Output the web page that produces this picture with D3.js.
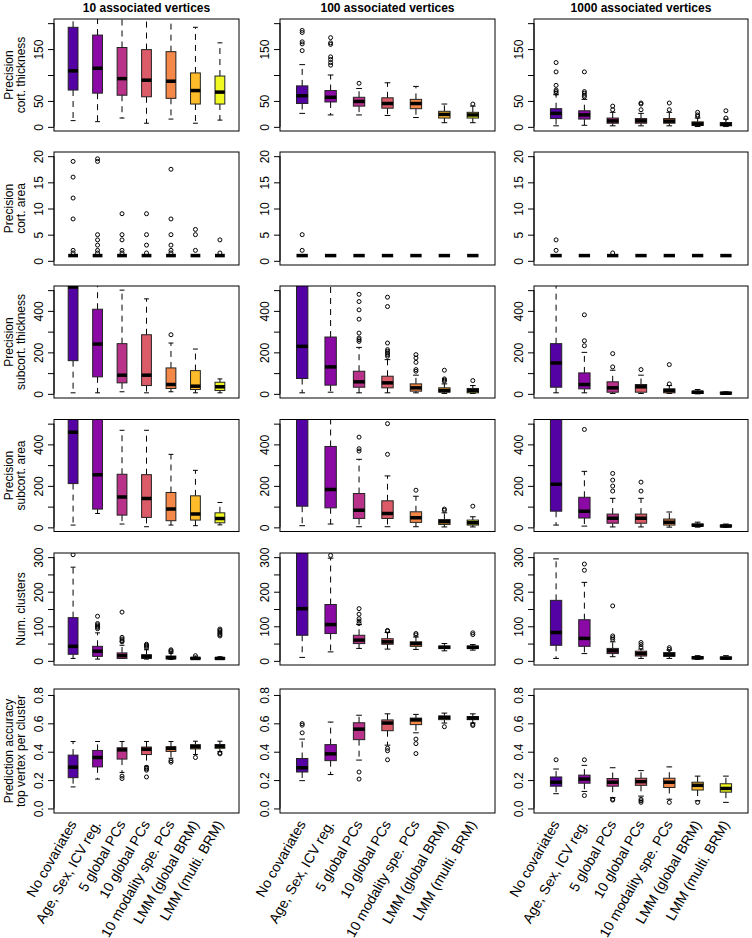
<!DOCTYPE html>
<html><head><meta charset="utf-8">
<script src="https://cdn.jsdelivr.net/npm/d3@7"></script>
<style>body{margin:0;background:#fff} text{font-family:"Liberation Sans",Arial,Helvetica,sans-serif;fill:#000}</style>
</head><body><svg id="c" width="752" height="938"></svg>
<script>
const columnTitles = ["10 associated vertices","100 associated vertices","1000 associated vertices"];
const rowTitles = [["Precision","cort. thickness"],["Precision","cort. area"],["Precision","subcort. thickness"],["Precision","subcort. area"],["Num. clusters"],["Prediction accuracy","top vertex per cluster"]];
const methods = ["No covariates","Age, Sex, ICV reg.","5 global PCs","10 global PCs","10 modality spe. PCs","LMM (global BRM)","LMM (multi. BRM)"];
const boxColors = ["#5402A3","#8B0AA5","#B93289","#DB5C68","#F48849","#FEBC2A","#F0F921"];
const yLimits = [[-8,208],[-0.8,20.8],[-20,520],[-20,520],[-12,312],[-0.032,0.842]];
const tickValues = [[0,50,100,150,200],[0,5,10,15,20],[0,100,200,300,400,500],[0,100,200,300,400,500],[0,50,100,150,200,250,300],[0,0.2,0.4,0.6,0.8]];
const tickLabels = [["0","50","","150",""],["0","5","10","15","20"],["0","","200","","400",""],["0","","200","","400",""],["0","","100","","200","","300"],["0.0","0.2","0.4","0.6","0.8"]];

// box stats: [lower whisker, Q1, median, Q3, upper whisker]
const ct10 = [[12,71,108,192,230],[10,65,113,177,225],[17,61,93,153,215],[7,58,90,149,215],[15,55,88,145,212],[7,44,70,104,192],[13,44,67,98,162]];
const ct10out = [[],[],[],[],[],[],[]];
const ct100 = [[26,45,60,79,120],[23,48,57,70,100],[23,40,49,57,74],[22,36,45,56,85],[18,35,45,53,78],[8,17,24,30,44],[8,17,23,28,40]];
const ct100out = [[147,160,164,182,186],[119,124,130,135,159,162,172],[84],[],[],[],[44]];
const ct1000 = [[2,16,26,35,62],[3,15,23,31,53],[2,7,11.5,17,28],[2,7,11.5,16,26],[2,7,11,16,28],[0.6,2.6,5.8,9.6,17],[0.6,2,5,8.3,15]];
const ct1000out = [[65,68,71,80,106,124],[58,61,65,68,106],[33,40],[33,44,46],[33,46],[20,23,28],[17,31]];

const ca10 = [[1,1,1,1,1],[1,1,1,1,1],[1,1,1,1,1],[1,1,1,1,1],[1,1,1,1,1],[1,1,1,1,1],[1,1,1,1,1]];
const ca10out = [[1.5,2,8,12,16,19],[1.5,2,3,4,5,19,19.5],[1.5,2,4,5,9],[1.5,3,5,9],[1.5,2,3,5,8,17.5],[2,5,6],[1.5,4]];
const ca100 = [[1,1,1,1,1],[1,1,1,1,1],[1,1,1,1,1],[1,1,1,1,1],[1,1,1,1,1],[1,1,1,1,1],[1,1,1,1,1]];
const ca100out = [[2,5],[],[],[],[],[],[]];
const ca1000 = [[1,1,1,1,1],[1,1,1,1,1],[1,1,1,1,1],[1,1,1,1,1],[1,1,1,1,1],[1,1,1,1,1],[1,1,1,1,1]];
const ca1000out = [[2,4],[],[1.5],[],[],[],[]];

const st10 = [[5,160,515,700,900],[5,82,240,408,600],[10,53,90,242,500],[5,40,90,285,458],[10,26,45,125,245],[5,21,37,112,216],[5,16,34,56,72]];
const st10out = [[],[],[],[],[285],[],[]];
const st100 = [[5,74,229,700,1000],[8,42,130,274,600],[5,32,58,109,224],[5,29,53,85,165],[5,13,29,48,90],[2,8,16,29,48],[2,5,16,26,40]];
const st100out = [[],[],[253,261,269,293,360,405,445,480],[181,189,197,205,213,245,421,466],[109,117,152,173,189],[61,66,72,114],[64]];
const st1000 = [[5,32,149,242,560],[5,24,45,101,200],[2,8,29,58,114],[2,8,34,45,90],[2,5,16,24,40],[0,2,8,13,21],[0,0,3,8,10]];
const st1000out = [[],[232,256,381],[130,194],[117],[48,141],[],[]];

const sa10 = [[11,211,459,800,1100],[67,88,254,560,900],[16,59,146,256,468],[3,48,139,254,468],[11,32,88,168,352],[8,35,64,152,275],[12,22,43,70,120]];
const sa10out = [[],[],[],[],[],[],[]];
const sa100 = [[8,102,600,1000,1500],[16,94,182,390,560],[3,43,83,163,328],[3,43,67,128,248],[3,24,46,75,150],[2,14,27,38,70],[2,11,22,35,51]];
const sa100out = [[],[],[368,379,435],[352,500],[179],[82,88],[102]];
const sa1000 = [[11,78,208,700,1000],[6,45,78,145,270],[2,20,44,64,140],[2,20,44,64,140],[1,11,25,40,74],[1,6,10,16,25],[0,2,6,11,16]];
const sa1000out = [[],[472],[175,199,228,260],[175,218],[],[],[]];

const nc10 = [[7,19,42,125,271],[5,13,28,42,81],[7,7,15,23,45],[5,7,12,18,32],[4,6,9,14,22],[4,5,7,10,14],[4,5,7,9,12]];
const nc10out = [[307],[93,97,100,104,108,129],[55,58,63,68,141],[38,42,45,48],[26,29,32],[15],[72,76,80,84,88,92]];
const nc100 = [[10,74,151,500,800],[26,79,105,163,297],[36,50,60,74,105],[34,48,55,64,82],[33,42,50,55,69],[29,36,39,43,50],[31,36,39,43,47]];
const nc100out = [[],[305],[108,115,122,135,151],[86,88],[75,79],[],[76,81]];
const nc1000 = [[7,45,82,175,295],[21,42,65,119,227],[12,21,29,36,55],[7,14,21,28,34],[7,13,18,24,31],[4,6,9,12,15],[4,5,8,11,15]];
const nc1000out = [[],[262,280],[62,67,72,159],[40,47,53],[33,38],[],[]];

const pa10 = [[0.152,0.217,0.291,0.376,0.472],[0.207,0.293,0.359,0.409,0.472],[0.254,0.348,0.413,0.428,0.472],[0.298,0.38,0.417,0.433,0.472],[0.354,0.402,0.424,0.435,0.472],[0.38,0.42,0.435,0.45,0.474],[0.402,0.424,0.439,0.45,0.474]];
const pa10out = [[],[],[0.211,0.228],[0.222,0.27,0.28,0.29],[0.326,0.337],[0.359],[0.385,0.391]];
const pa100 = [[0.196,0.257,0.287,0.352,0.489],[0.239,0.337,0.385,0.45,0.609],[0.341,0.485,0.559,0.604,0.657],[0.446,0.548,0.602,0.624,0.667],[0.533,0.591,0.624,0.637,0.663],[0.602,0.626,0.641,0.652,0.672],[0.602,0.626,0.637,0.648,0.667]];
const pa100out = [[0.533,0.587,0.598],[],[0.207,0.257],[0.343,0.407,0.424],[0.387,0.457,0.489],[0.576],[0.585,0.593]];
const pa1000 = [[0.104,0.157,0.185,0.222,0.278],[0.12,0.178,0.207,0.235,0.304],[0.076,0.157,0.185,0.211,0.287],[0.087,0.163,0.189,0.213,0.267],[0.065,0.148,0.185,0.213,0.293],[0.054,0.13,0.163,0.185,0.228],[0.043,0.115,0.141,0.174,0.228]];
const pa1000out = [[0.343],[0.091,0.343],[0.059,0.065],[0.043,0.054,0.065],[0.043],[0.043],[]];

const statGrid = [[ct10,ct100,ct1000],[ca10,ca100,ca1000],[st10,st100,st1000],[sa10,sa100,sa1000],[nc10,nc100,nc1000],[pa10,pa100,pa1000]];
const outGrid = [[ct10out,ct100out,ct1000out],[ca10out,ca100out,ca1000out],[st10out,st100out,st1000out],[sa10out,sa100out,sa1000out],[nc10out,nc100out,nc1000out],[pa10out,pa100out,pa1000out]];

// layout
const colX = [[54,239],[280,495],[534,748]];
const rowY = [[19,131],[152,265],[286,398],[419.5,531.5],[553,665],[689,813]];
const svg = d3.select("#c");
const defs = svg.append("defs");

statGrid.forEach((rowStats, ri) => {
  rowStats.forEach((stats, ci) => {
    const [x0, x1] = colX[ci];
    const [y0, y1] = rowY[ri];
    const x = d3.scaleLinear().domain([0.22, 7.78]).range([x0, x1]);
    const y = d3.scaleLinear().domain(yLimits[ri]).range([y1, y0]);
    const id = `clip${ri}_${ci}`;
    defs.append("clipPath").attr("id", id).append("rect")
      .attr("x", x0).attr("y", y0).attr("width", x1 - x0).attr("height", y1 - y0);
    const g = svg.append("g");
    const pg = g.append("g").attr("clip-path", `url(#${id})`);
    const bw = x(1.4) - x(1);
    const sw = bw / 2;
    stats.forEach((s, i) => {
      const cx = x(i + 1);
      const [lo, q1, md, q3, hi] = s;
      const bg = pg.append("g");
      [[q3, hi], [q1, lo]].forEach(([a, b]) => {
        if (a !== b) {
          bg.append("line").attr("x1", cx).attr("x2", cx).attr("y1", y(a)).attr("y2", y(b))
            .attr("stroke", "#000").attr("stroke-width", 1).attr("stroke-dasharray", "6,5");
        }
        bg.append("line").attr("x1", cx - sw / 2).attr("x2", cx + sw / 2).attr("y1", y(b)).attr("y2", y(b))
          .attr("stroke", "#000").attr("stroke-width", 1);
      });
      bg.append("rect").attr("x", cx - bw / 2).attr("width", bw)
        .attr("y", y(q3)).attr("height", Math.max(0, y(q1) - y(q3)))
        .attr("fill", boxColors[i]).attr("stroke", "#222").attr("stroke-width", 1);
      bg.append("line").attr("x1", cx - bw / 2).attr("x2", cx + bw / 2).attr("y1", y(md)).attr("y2", y(md))
        .attr("stroke", "#000").attr("stroke-width", 3.5);
      outGrid[ri][ci][i].forEach(v => {
        bg.append("circle").attr("cx", cx).attr("cy", y(v)).attr("r", 2)
          .attr("fill", "none").attr("stroke", "#000").attr("stroke-width", 1);
      });
    });
    g.append("rect").attr("x", x0).attr("y", y0).attr("width", x1 - x0).attr("height", y1 - y0)
      .attr("fill", "none").attr("stroke", "#000").attr("stroke-width", 1);
    const tv = tickValues[ri], tl = tickLabels[ri];
    const axis = d3.axisLeft(y).tickValues(tv).tickSizeOuter(0).tickSize(6)
      .tickFormat((d, k) => tl[k]);
    const ag = g.append("g").attr("transform", `translate(${x0},0)`).call(axis);
    ag.select(".domain").attr("d", `M0,${y(tv[0])}V${y(tv[tv.length - 1])}`);
    ag.selectAll("line").attr("stroke", "#000");
    ag.selectAll("text").attr("font-size", 12).attr("font-family", "Liberation Sans, Arial, sans-serif")
      .attr("dy", null).attr("text-anchor", "middle")
      .attr("transform", "translate(-11,0) rotate(-90)")
      .attr("x", 0).attr("y", 0);
    if (ri === 0) {
      svg.append("text").attr("x", (x0 + x1) / 2).attr("y", 12).attr("text-anchor", "middle")
        .attr("font-weight", "bold").attr("font-size", 12).text(columnTitles[ci]);
    }
    if (ci === 0) {
      const lines = rowTitles[ri];
      const cy = (y0 + y1) / 2;
      const bases = lines.length === 2 ? [13, 25] : [25];
      lines.forEach((t, k) => {
        svg.append("text").attr("transform", `translate(${bases[k]},${cy}) rotate(-90)`)
          .attr("text-anchor", "middle").attr("font-size", 12).text(t);
      });
    }
    if (ri === statGrid.length - 1) {
      methods.forEach((m, i) => {
        svg.append("text").attr("transform", `translate(${x(i + 1) + 4},${y1 + 11}) rotate(-60)`)
          .attr("text-anchor", "end").attr("font-size", 14).text(m);
      });
    }
  });
});
</script></body></html>
